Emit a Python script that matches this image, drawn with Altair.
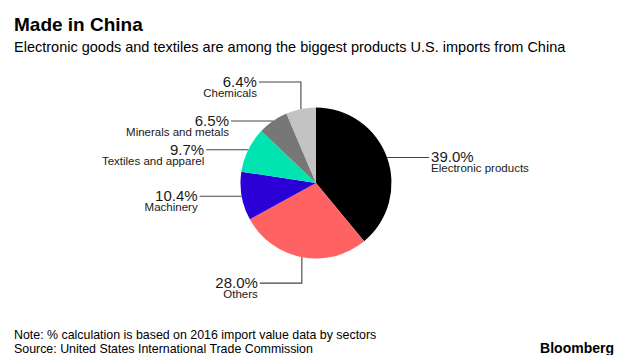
import math
import altair as alt
import pandas as pd

# ---- data ----
sectors = ["Electronic products", "Others", "Machinery", "Textiles and apparel",
           "Minerals and metals", "Chemicals"]
shares = [39.0, 28.0, 10.4, 9.7, 6.5, 6.4]
colors = ["#000000", "#ff6262", "#2a00d6", "#00e4b2", "#777777", "#c3c3c3"]

# ---- layout (chart pixel space) ----
W, H = 612, 347
CX, CY, R = 308, 175, 75.5
FONT = "Liberation Sans"
side = {"Electronic products": 1, "Others": -1, "Machinery": -1,
        "Textiles and apparel": -1, "Minerals and metals": -1, "Chemicals": -1}
elbow = {"Others": 26, "Chemicals": -27}
HLEN = 42

df = pd.DataFrame({"sector": sectors, "share": shares, "idx": range(len(sectors))})

# leader lines & label anchors derived from the slice mid-angles
pts, labs = [], []
start = 0.0
for s, v in zip(sectors, shares):
    mid = (start + v / 2) / 100 * 2 * math.pi
    start += v
    ex = CX + R * math.sin(mid)
    ey = CY - R * math.cos(mid)
    path = [(ex, ey)]
    ky = ey + elbow.get(s, 0)
    if s in elbow:
        path.append((ex, ky))
    endx = ex + side[s] * HLEN
    path.append((endx, ky))
    for i, (px, py) in enumerate(path):
        pts.append({"sector": s, "o": i, "x": px, "y": py})
    labs.append({"sector": s, "label": f"{v:.1f}%", "x": endx + side[s] * 2,
                 "y": ky, "align": "left" if side[s] > 0 else "right"})
lines = pd.DataFrame(pts)
labdf = pd.DataFrame(labs)

xs = alt.Scale(domain=[0, W], nice=False, zero=False)
ys = alt.Scale(domain=[0, H], nice=False, zero=False, reverse=True)

pie = alt.Chart(df).mark_arc(radius=R).encode(
    theta=alt.Theta("share:Q", stack=True),
    order=alt.Order("idx:Q"),
    color=alt.Color("sector:N", scale=alt.Scale(domain=sectors, range=colors), legend=None),
    x=alt.value(CX), y=alt.value(CY),
)

leader = alt.Chart(lines).mark_line(color="#444444", strokeWidth=1.1).encode(
    x=alt.X("x:Q", scale=xs, axis=None),
    y=alt.Y("y:Q", scale=ys, axis=None),
    detail="sector:N",
    order="o:Q",
)

def label_layer(al):
    d = labdf[labdf["align"] == al]
    pct = alt.Chart(d).mark_text(align=al, baseline="alphabetic", font=FONT, fontSize=15,
                                 color="#1a1a1a", dy=5).encode(
        x=alt.X("x:Q", scale=xs, axis=None), y=alt.Y("y:Q", scale=ys, axis=None), text="label:N")
    nm = alt.Chart(d).mark_text(align=al, baseline="alphabetic", font=FONT, fontSize=11.5,
                                color="#1a1a1a", dy=15).encode(
        x=alt.X("x:Q", scale=xs, axis=None), y=alt.Y("y:Q", scale=ys, axis=None), text="sector:N")
    return pct + nm

one = pd.DataFrame({"t": [""]})
def txt(s, x, y, size, bold=False, align="left"):
    return alt.Chart(one).mark_text(text=s, align=align, baseline="alphabetic", font=FONT,
                                    fontSize=size, fontWeight="bold" if bold else "normal",
                                    color="#000000").encode(x=alt.value(x), y=alt.value(y))

chart = alt.layer(
    pie, leader, label_layer("left"), label_layer("right"),
    txt("Made in China", 6, 23, 19, bold=True),
    txt("Electronic goods and textiles are among the biggest products U.S. imports from China", 6, 44, 14.5),
    txt("Note: % calculation is based on 2016 import value data by sectors", 6, 331, 12.4),
    txt("Source: United States International Trade Commission", 6, 345, 12.4),
    txt("Bloomberg", 606, 345, 14, bold=True, align="right"),
).properties(width=W, height=H, autosize=alt.AutoSizeParams(type="none"), padding=0
).configure_view(stroke=None)

chart.save("out.html", embed_options={"renderer": "svg", "actions": False})
